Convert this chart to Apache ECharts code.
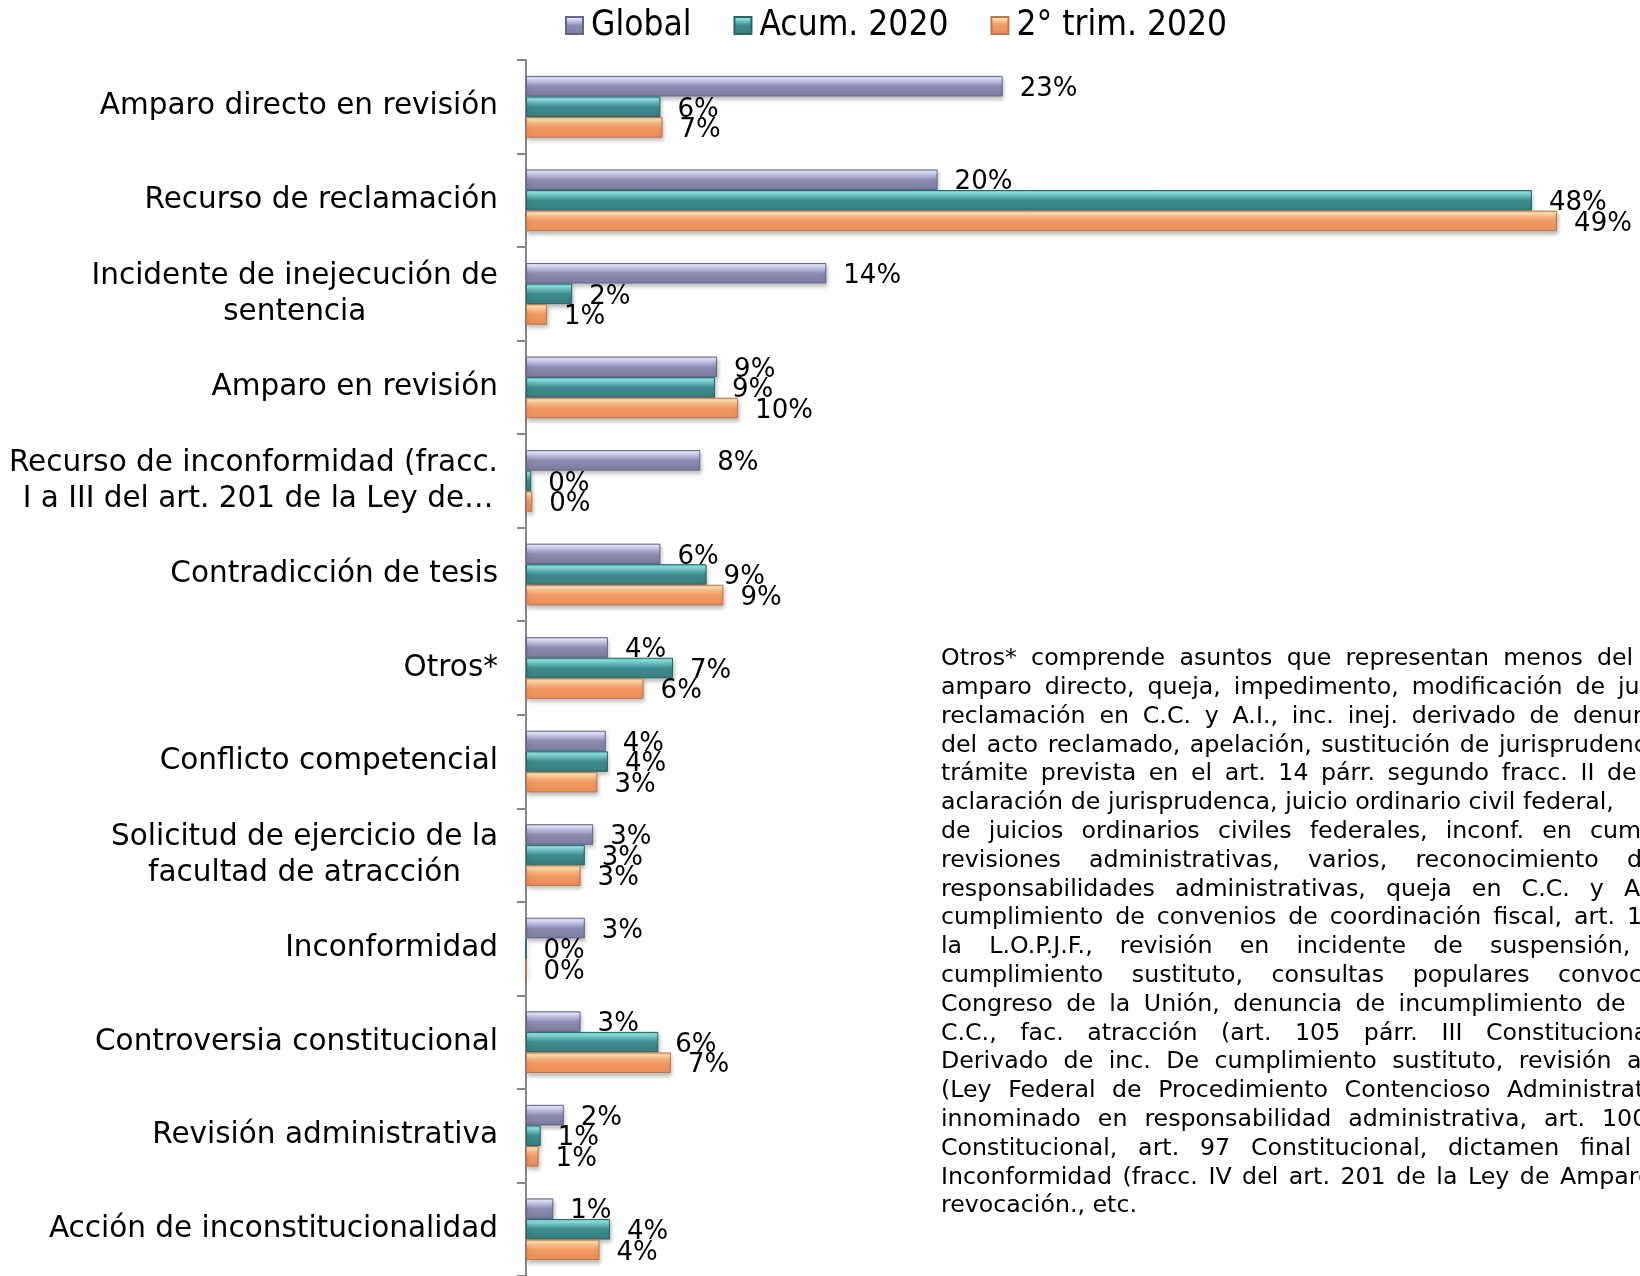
<!DOCTYPE html>
<html>
<head>
<meta charset="utf-8">
<script src="https://cdn.jsdelivr.net/npm/echarts@6/dist/echarts.min.js"></script>
<style>
  html, body { margin: 0; padding: 0; background: #fff; }
  #chart { width: 1640px; height: 1276px; }
</style>
</head>
<body>
<div id="chart"></div>
<script>
// categories, top to bottom
const categories = [
  'Amparo directo en revisión',
  'Recurso de reclamación',
  'Incidente de inejecución de\nsentencia',
  'Amparo en revisión',
  'Recurso de inconformidad (fracc.\n I a III del art. 201 de la Ley de…',
  'Contradicción de tesis',
  'Otros*',
  'Conflicto competencial',
  'Solicitud de ejercicio de la\nfacultad de atracción',
  'Inconformidad',
  'Controversia constitucional',
  'Revisión administrativa',
  'Acción de inconstitucionalidad'
]

const seriesNames = ['Global', 'Acum. 2020', '2° trim. 2020']

// shares (%); labels show them rounded
const globalValues = [22.7, 19.6, 14.3, 9.1, 8.3, 6.4, 3.9, 3.8, 3.2, 2.8, 2.6, 1.8, 1.3]
const acumValues = [6.4, 47.9, 2.2, 9.0, 0.25, 8.6, 7.0, 3.9, 2.8, 0, 6.3, 0.7, 4.0]
const trimValues = [6.5, 49.1, 1.0, 10.1, 0.3, 9.4, 5.6, 3.4, 2.6, 0, 6.9, 0.6, 3.5]

// footnote, one entry per printed line (the text box runs past the right edge)
const noteLines = [
  'Otros* comprende asuntos que representan menos del',
  'amparo directo, queja, impedimento, modificación de jurisprudencia,',
  'reclamación en C.C. y A.I., inc. inej. derivado de denuncia',
  'del acto reclamado, apelación, sustitución de jurisprudencia',
  'trámite prevista en el art. 14 párr. segundo fracc. II de',
  'aclaración de jurisprudenca, juicio ordinario civil federal,',
  'de juicios ordinarios civiles federales, inconf. en cumplimiento',
  'revisiones administrativas, varios, reconocimiento de',
  'responsabilidades administrativas, queja en C.C. y A.I.,',
  'cumplimiento de convenios de coordinación fiscal, art. 11',
  'la L.O.P.J.F., revisión en incidente de suspensión,',
  'cumplimiento sustituto, consultas populares convocadas',
  'Congreso de la Unión, denuncia de incumplimiento de',
  'C.C., fac. atracción (art. 105 párr. III Constitucional),',
  'Derivado de inc. De cumplimiento sustituto, revisión a',
  '(Ley Federal de Procedimiento Contencioso Administrativo),',
  'innominado en responsabilidad administrativa,  art. 100',
  'Constitucional, art. 97 Constitucional, dictamen final',
  'Inconformidad (fracc. IV del art. 201 de la Ley de Amparo),',
  'revocación., etc.'
]
// x where the last word of each justified line starts (0 = last line, not justified)
const noteLastWordX = [1597, 1618, 1573, 1499, 1607, 1523, 1590, 1627, 1624, 1627,
  1490, 1558, 1596, 1486, 1627, 1507, 1602, 1580, 1560, 0]

const NOTE_LEFT = 941
const NOTE_TOP = 659
const NOTE_LH = 28.8
const NOTE_FONT = '23.7px "DejaVu Sans"'

function barGradient (stops) {
  return new echarts.graphic.LinearGradient(0, 0, 0, 1,
    stops.map(s => ({ offset: s[0], color: s[1] })))
}

const styles = [
  {
    color: barGradient([[0, '#c4c4ea'], [0.12, '#e8e8fe'], [0.32, '#b6b6dc'], [0.5, '#8d8db3'], [1, '#7a7aa2']]),
    borderColor: '#65658c'
  },
  {
    color: barGradient([[0, '#5cc0c2'], [0.14, '#8fe3e3'], [0.34, '#5cb1b3'], [0.5, '#3e8c8e'], [1, '#367e80']]),
    borderColor: '#2b6466'
  },
  {
    color: barGradient([[0, '#f5be8a'], [0.14, '#ffe1b2'], [0.34, '#f9b17c'], [0.5, '#f29a63'], [1, '#eb8c57']]),
    borderColor: '#c0754a'
  }
]

// justified footnote: words spread so the last word starts where it does in the source
function buildNote () {
  const ctx = document.createElement('canvas').getContext('2d')
  ctx.font = NOTE_FONT
  const space = ctx.measureText(' ').width
  const els = []
  noteLines.forEach((line, i) => {
    const words = line.split(/\s+/)
    const y = NOTE_TOP + i * NOTE_LH
    const k = words.length - 1
    let gap = space
    if (noteLastWordX[i] && k > 0) {
      const w = words.slice(0, k).reduce((s, wd) => s + ctx.measureText(wd).width, 0)
      gap = Math.max(space * 0.5, (noteLastWordX[i] - NOTE_LEFT - w) / k)
    }
    let x = NOTE_LEFT
    words.forEach(wd => {
      els.push({
        type: 'text',
        x: x,
        y: y,
        silent: true,
        style: { text: wd, font: NOTE_FONT, fill: '#000', verticalAlign: 'middle' }
      })
      x += ctx.measureText(wd).width + gap
    })
  })
  return els
}

function makeSeries (name, values, idx) {
  return {
    name: name,
    type: 'bar',
    data: values,
    barGap: '0%',
    barCategoryGap: '34%',
    itemStyle: {
      color: styles[idx].color,
      borderColor: styles[idx].borderColor,
      borderWidth: 1,
      shadowColor: 'rgba(0,0,0,0.25)',
      shadowBlur: 4,
      shadowOffsetX: 1,
      shadowOffsetY: 3
    },
    label: {
      show: true,
      position: 'right',
      distance: 17,
      offset: [0, 3],
      color: '#000',
      fontFamily: 'DejaVu Sans',
      fontSize: 26,
      formatter: p => Math.round(p.value) + '%'
    }
  }
}

const chart = echarts.init(document.getElementById('chart'))
const option = {
  animation: false,
  legend: {
    left: 560,
    top: 3,
    itemWidth: 17,
    itemHeight: 17,
    itemGap: 42,
    icon: 'rect',
    textStyle: {
      fontFamily: 'DejaVu Sans Condensed',
      fontSize: 35,
      color: '#000',
      padding: [0, 0, 0, 3]
    },
    data: seriesNames
  },
  grid: {
    left: 526,
    top: 60,
    width: 1113,
    height: 1220
  },
  xAxis: {
    type: 'value',
    min: 0,
    max: 53,
    show: false
  },
  yAxis: {
    type: 'category',
    inverse: true,
    data: categories,
    axisLine: { show: true, lineStyle: { color: '#888', width: 2 } },
    axisTick: { show: true, length: 9, lineStyle: { color: '#888', width: 2 } },
    axisLabel: {
      margin: 28,
      formatter: v => v.split('\n').map(s => '{c|' + s + '}').join('\n'),
      rich: {
        c: {
          align: 'center',
          fontFamily: 'DejaVu Sans',
          fontSize: 29.5,
          lineHeight: 36,
          color: '#000'
        }
      }
    }
  },
  series: [
    makeSeries(seriesNames[0], globalValues, 0),
    makeSeries(seriesNames[1], acumValues, 1),
    makeSeries(seriesNames[2], trimValues, 2)
  ],
  graphic: buildNote()
}
chart.setOption(option)
</script>
</body>
</html>
